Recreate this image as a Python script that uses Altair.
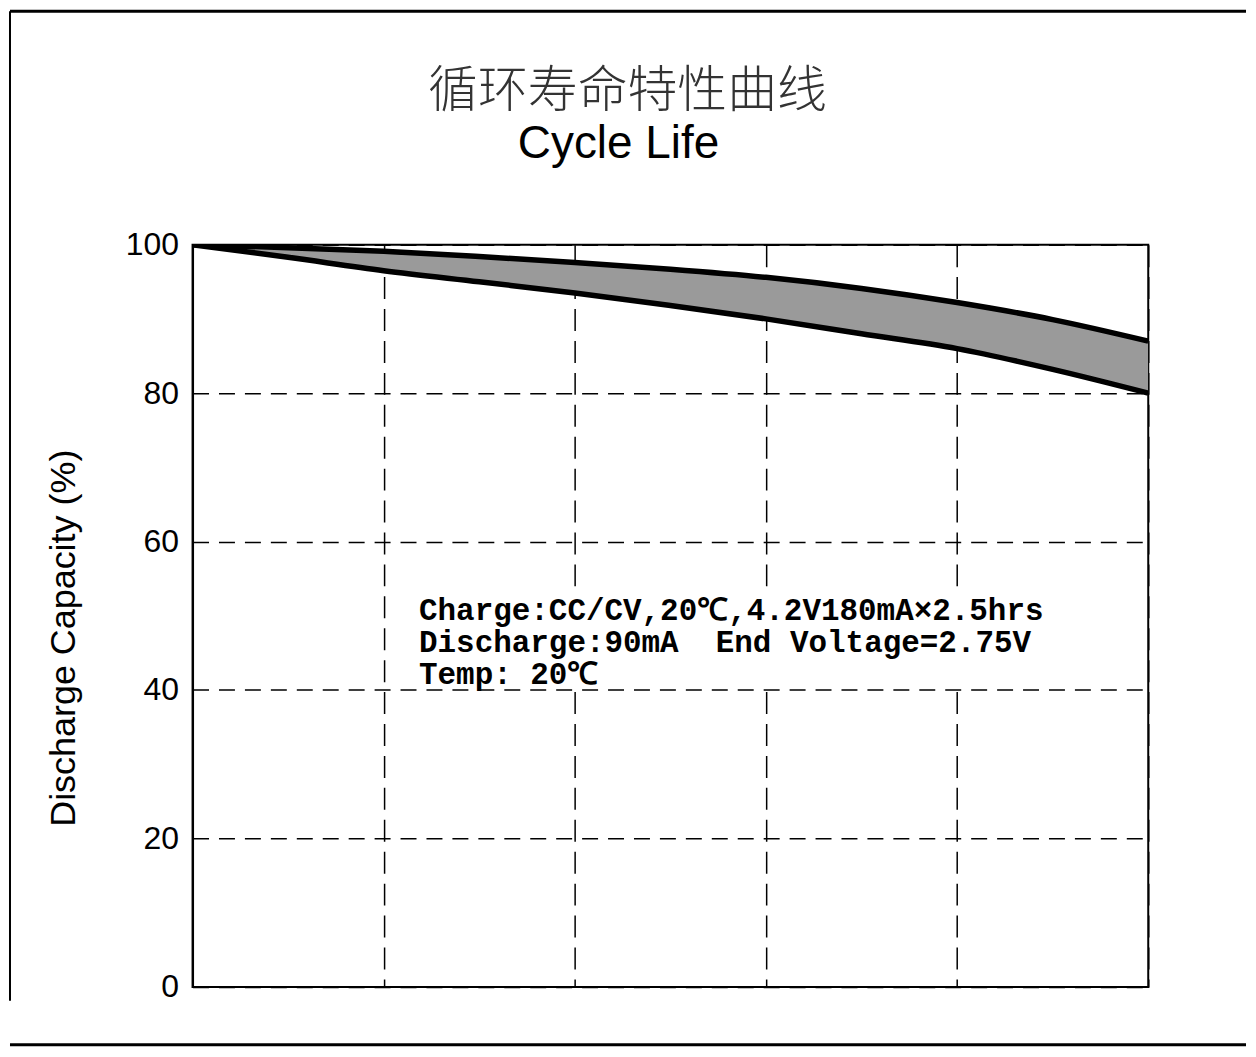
import altair as alt
import pandas as pd

# ---- data ----
cycles = [0, 50, 100, 150, 200, 250, 300, 350, 400, 450, 500]
upper = [100, 99.6, 99.1, 98.4, 97.6, 96.7, 95.6, 94.1, 92.2, 89.9, 87.0]
lower = [100, 98.3, 96.5, 95.0, 93.5, 91.8, 90.0, 88.0, 86.0, 83.2, 80.0]
y_ticks = [0, 20, 40, 60, 80, 100]
x_ticks = [0, 100, 200, 300, 400, 500]
title_cn = "循环寿命特性曲线"
title_en = "Cycle Life"
y_title = "Discharge Capacity (%)"
notes = ["Charge:CC/CV,20℃,4.2V180mA×2.5hrs",
         "Discharge:90mA\u00a0 End Voltage=2.75V",
         "Temp: 20℃"]

df = pd.DataFrame({"cycle": cycles, "upper": upper, "lower": lower})

W, H = 958, 744

x_enc = alt.X("cycle:Q", title=None,
              scale=alt.Scale(domain=[0, 500], nice=False),
              axis=alt.Axis(values=x_ticks, labels=False, ticks=False, domain=False,
                            grid=True, gridColor="black", gridDash=[22, 10],
                            gridWidth=1.5, gridOpacity=1))

y_axis = alt.Axis(values=y_ticks, ticks=False, domain=True, domainColor="black",
                  domainWidth=2, grid=True, gridColor="black", gridDash=[16, 10],
                  gridWidth=1.5, gridOpacity=1,
                  labelFont="Liberation Sans", labelFontSize=32, labelColor="black",
                  labelPadding=14,
                  titleFont="Liberation Sans", titleFontSize=36, titleFontWeight="normal",
                  titleColor="black", titleAngle=270, titleX=-129, titleY=394,
                  titleAlign="center", titleBaseline="middle")
y_scale = alt.Scale(domain=[0, 100], nice=False)

base = alt.Chart(df)

band = base.mark_area(color="#9a9a9a", interpolate="monotone", clip=True).encode(
    x=x_enc,
    y=alt.Y("upper:Q", title=y_title, scale=y_scale, axis=y_axis),
    y2="lower:Q",
)
line_up = base.mark_line(color="black", strokeWidth=5.5, interpolate="monotone", clip=True).encode(
    x=x_enc,
    y=alt.Y("upper:Q", title=y_title, scale=y_scale, axis=y_axis),
)
line_low = base.mark_line(color="black", strokeWidth=5.5, interpolate="monotone", clip=True).encode(
    x=x_enc,
    y=alt.Y("lower:Q", title=y_title, scale=y_scale, axis=y_axis),
)

one = alt.Data(values=[{"k": 1}])

t_cn = alt.Chart(one).mark_text(
    text=title_cn, font="Noto Sans CJK SC", fontSize=50, fontWeight=300,
    color="#333333", align="center", baseline="alphabetic"
).encode(x=alt.value(436), y=alt.value(-138))

t_en = alt.Chart(one).mark_text(
    text=title_en, font="Liberation Sans", fontSize=46, color="black",
    align="center", baseline="alphabetic"
).encode(x=alt.value(427), y=alt.value(-87))

# white box behind the annotation (gridlines are interrupted there in the original)
note_bg = alt.Chart(one).mark_rect(color="white").encode(
    x=alt.value(222), x2=alt.value(855), y=alt.value(350), y2=alt.value(444))

t_notes = alt.Chart(one).mark_text(
    font="Liberation Mono", fontSize=31, fontWeight="bold", color="black",
    align="left", baseline="alphabetic", lineHeight=32
).encode(x=alt.value(227), y=alt.value(376), text=alt.value(notes))

# picture frame lines (decoration around the original image)
frame_top = alt.Chart(one).mark_rule(color="black", strokeWidth=3).encode(
    x=alt.value(-183), x2=alt.value(1056), y=alt.value(-234))
frame_left = alt.Chart(one).mark_rule(color="black", strokeWidth=2).encode(
    x=alt.value(-183), y=alt.value(-234), y2=alt.value(758))
frame_bottom = alt.Chart(one).mark_rule(color="black", strokeWidth=3).encode(
    x=alt.value(-183), x2=alt.value(1056), y=alt.value(802))

chart = alt.layer(
    band, line_up, line_low, note_bg, t_cn, t_en, t_notes,
    frame_top, frame_left, frame_bottom
).properties(
    width=W, height=H, padding=0, background="white"
).configure_view(
    stroke="black", strokeWidth=2
)

chart.save("out.html", embed_options={"renderer": "svg", "actions": False})
